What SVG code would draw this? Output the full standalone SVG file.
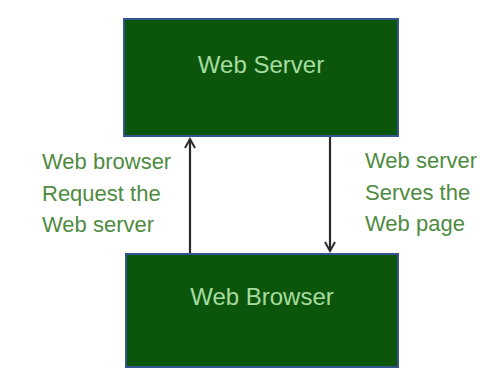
<svg xmlns="http://www.w3.org/2000/svg" width="480" height="369" viewBox="0 0 480 369">
<style>
.box{fill:#0b560b;stroke:#34548f;stroke-width:2}
.title{font-family:"Liberation Sans",Arial,sans-serif;font-size:24px;fill:#a6dca0;text-anchor:middle}
.lbl{font-family:"Liberation Sans",Arial,sans-serif;font-size:22px;fill:#4f8b3f}
.conn{stroke:#2b2b2b;stroke-width:2.2;fill:none}
</style>
<defs>
<marker id="ah" viewBox="0 0 12 12" refX="10" refY="6" markerWidth="12" markerHeight="12" markerUnits="userSpaceOnUse" orient="auto">
<path d="M1,1 L10,6 L1,11" fill="none" stroke="#2b2b2b" stroke-width="2"/>
</marker>
</defs>
<rect width="480" height="369" fill="#ffffff"/>
<g id="web-server">
<rect class="box" x="124" y="19" width="274" height="117"/>
<text class="title" x="261" y="73">Web Server</text>
</g>
<g id="web-browser">
<rect class="box" x="126" y="254" width="272" height="113"/>
<text class="title" x="262" y="305">Web Browser</text>
</g>
<g id="connectors">
<line class="conn" x1="190" y1="253" x2="190" y2="139" marker-end="url(#ah)"/>
<line class="conn" x1="330" y1="137" x2="330" y2="251" marker-end="url(#ah)"/>
</g>
<g id="labels">
<text class="lbl" x="42" y="169">Web browser</text>
<text class="lbl" x="42" y="201">Request the</text>
<text class="lbl" x="42" y="232">Web server</text>
<text class="lbl" x="365" y="168">Web server</text>
<text class="lbl" x="365" y="200">Serves the</text>
<text class="lbl" x="365" y="231">Web page</text>
</g>
</svg>
